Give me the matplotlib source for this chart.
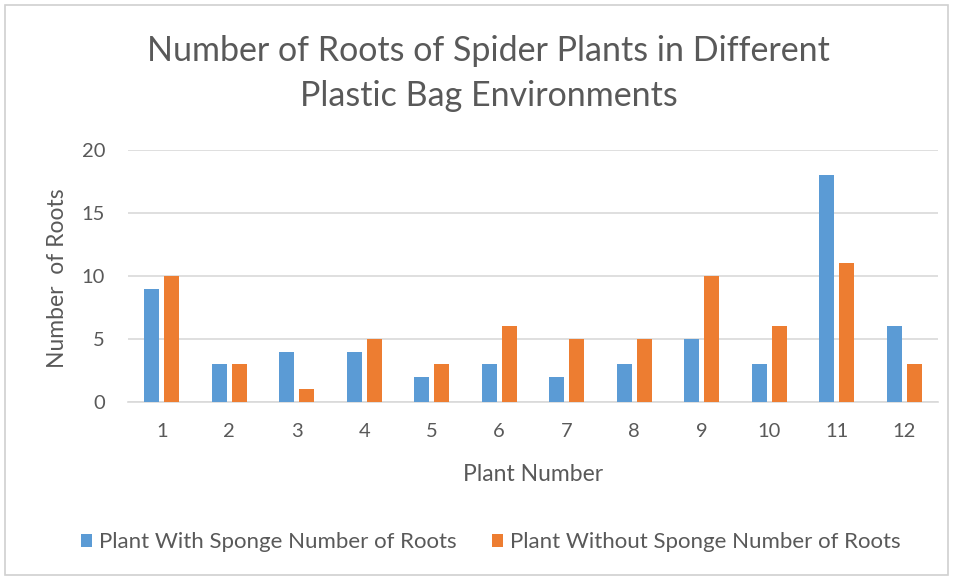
import matplotlib
matplotlib.use("Agg")
import matplotlib.pyplot as plt
import numpy as np
from matplotlib.patches import Rectangle

plants = [str(i) for i in range(1, 13)]
with_sponge = [9, 3, 4, 4, 2, 3, 2, 3, 5, 3, 18, 6]
without_sponge = [10, 3, 1, 5, 3, 6, 5, 5, 10, 6, 11, 3]
y_ticks = [0, 5, 10, 15, 20]

plt.rcParams['font.family'] = ['Lato', 'DejaVu Sans']
text_gray = '#595959'

fig = plt.figure(figsize=(9.58, 5.8), dpi=100)
fig.patch.set_facecolor('white')
fig.patches.append(Rectangle((0.005, 0.008), 0.985, 0.983, transform=fig.transFigure,
                             fill=False, edgecolor='#D0D0D0', linewidth=1.2))

ax = fig.add_axes([0.1336, 0.307, 0.8454, 0.434])
x = np.arange(1, len(plants) + 1)
w = 0.22
off = 0.148
ax.bar(x - off, with_sponge, width=w, color='#5B9BD5',
       label='Plant With Sponge Number of Roots', zorder=3)
ax.bar(x + off, without_sponge, width=w, color='#ED7D31',
       label='Plant Without Sponge Number of Roots', zorder=3)

ax.set_xlim(0.5, 12.5)
ax.set_ylim(0, 20)
ax.set_yticks(y_ticks)
ax.set_xticks(x)
ax.set_xticklabels(plants)
ax.yaxis.grid(True, color='#D9D9D9', linewidth=1.2, zorder=0)
for s in ['top', 'right', 'left']:
    ax.spines[s].set_visible(False)
ax.spines['bottom'].set_color('#D9D9D9')
ax.spines['bottom'].set_linewidth(1.2)
ax.tick_params(axis='both', length=0, colors=text_gray, labelsize=14.5)
ax.tick_params(axis='x', pad=15)
ax.tick_params(axis='y', pad=16.5)

ax.set_xlabel('Plant Number', fontsize=16.5, color=text_gray)
ax.xaxis.set_label_coords(0.5, -0.245)
ax.set_ylabel('Number  of Roots', fontsize=16.5, color=text_gray)
ax.yaxis.set_label_coords(-0.074, 0.49)

fig.text(0.51, 0.873, 'Number of Roots of Spider Plants in Different\nPlastic Bag Environments',
         ha='center', va='center', fontsize=24.5, color=text_gray, linespacing=1.48)

fig.legend(loc='center', bbox_to_anchor=(0.512, 0.065), ncol=2, frameon=False,
           fontsize=16, labelcolor=text_gray, handlelength=0.5, handleheight=0.5,
           handletextpad=0.3, columnspacing=1.6)

fig.savefig('out.png', dpi=100, facecolor='white')
